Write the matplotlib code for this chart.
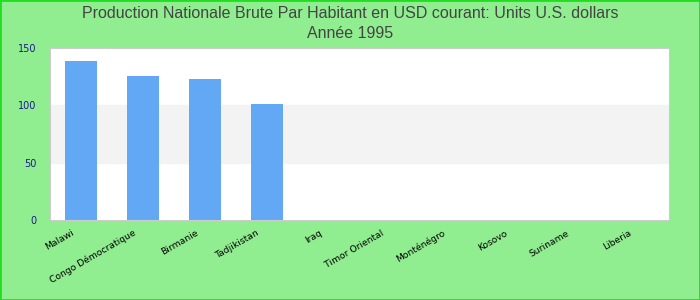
import matplotlib.pyplot as plt
from matplotlib.patches import Rectangle
from matplotlib.transforms import ScaledTranslation

countries = ["Malawi", "Congo Démocratique", "Birmanie", "Tadjikistan", "Iraq",
             "Timor Oriental", "Monténégro", "Kosovo", "Suriname", "Liberia"]
values = [139, 126, 123, 101, None, None, None, None, None, None]
yticks = [0, 50, 100, 150]

fig = plt.figure(figsize=(7, 3), dpi=100, facecolor="#90ee90")
ax = fig.add_axes([0.0714, 0.2667, 0.8843, 0.5733])
ax.set_facecolor("white")

# alternating band between 50 and 100
ax.axhspan(50, 100, color="#f3f3f3", zorder=0)

xs = [i for i, v in enumerate(values) if v is not None]
hs = [v for v in values if v is not None]
ax.bar(xs, hs, width=0.52, color="#62a8f5", zorder=2)

ax.set_xlim(-0.5, len(countries) - 0.5)
ax.set_ylim(0, 150)
ax.set_yticks(yticks)
ax.set_yticklabels([str(t) for t in yticks], color="#1a1a8c", fontsize=7)
ax.set_xticks(range(len(countries)))
ax.set_xticklabels(countries, rotation=30, ha="right", fontsize=6.6)
ax.tick_params(axis="both", length=0)
ax.tick_params(axis="y", pad=10)
ax.tick_params(axis="x", pad=6)

shift = ScaledTranslation(-0.05, 0, fig.dpi_scale_trans)
for lab in ax.get_xticklabels():
    lab.set_transform(lab.get_transform() + shift)

for s in ax.spines.values():
    s.set_color("#cccccc")

fig.text(0.5, 0.955, "Production Nationale Brute Par Habitant en USD courant: Units U.S. dollars",
         ha="center", va="center", fontsize=11.5, color="#444444", family="Liberation Sans")
fig.text(0.5, 0.888, "Année 1995", ha="center", va="center", fontsize=11.5,
         color="#444444", family="Liberation Sans")

fig.patches.append(Rectangle((0, 0), 1, 1, transform=fig.transFigure, fill=False,
                             edgecolor="#22dd22", linewidth=2))

fig.savefig("out.png", dpi=100, facecolor=fig.get_facecolor())
